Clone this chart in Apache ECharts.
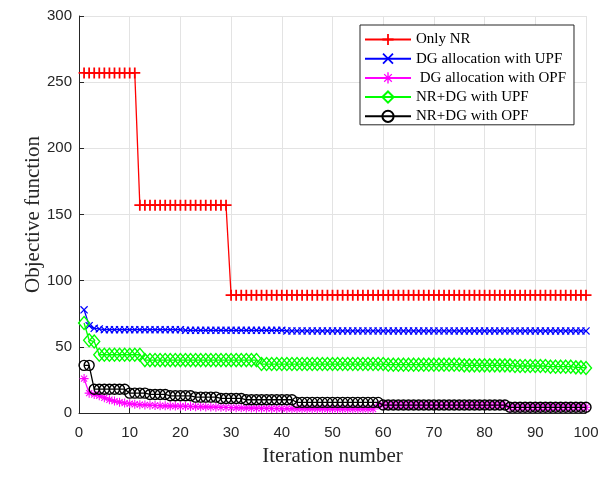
<!DOCTYPE html>
<html>
<head>
<meta charset="utf-8">
<script src="https://cdn.jsdelivr.net/npm/echarts@6/dist/echarts.min.js"></script>
<style>html,body{margin:0;padding:0;background:#fff}#c{width:608px;height:481px}</style>
</head>
<body>
<div id="c"></div>
<script>
// ---- data ----
const seriesNames = ['Only NR', 'DG allocation with UPF', ' DG allocation with OPF', 'NR+DG with UPF', 'NR+DG with OPF'];
const xTicks = [0, 10, 20, 30, 40, 50, 60, 70, 80, 90, 100];
const yTicks = [0, 50, 100, 150, 200, 250, 300];

const onlyNR = [
  257,257,257,257,257,257,257,257,257,257,
  257,157,157,157,157,157,157,157,157,157,
  157,157,157,157,157,157,157,157,157,89,
  89,89,89,89,89,89,89,89,89,89,
  89,89,89,89,89,89,89,89,89,89,
  89,89,89,89,89,89,89,89,89,89,
  89,89,89,89,89,89,89,89,89,89,
  89,89,89,89,89,89,89,89,89,89,
  89,89,89,89,89,89,89,89,89,89,
  89,89,89,89,89,89,89,89,89,89
];
const dgUPF = [
  78,66,64,63.5,63,63,63,63,63,63,
  63,63,63,63,63,63,63,63,63,63,
  62.5,62.5,62.5,62.5,62.5,62.5,62.5,62.5,62.5,62.5,
  62.5,62.5,62.5,62.5,62.5,62.5,62.5,62.5,62.5,62.5,
  62,62,62,62,62,62,62,62,62,62,
  62,62,62,62,62,62,62,62,62,62,
  62,62,62,62,62,62,62,62,62,62,
  62,62,62,62,62,62,62,62,62,62,
  62,62,62,62,62,62,62,62,62,62,
  62,62,62,62,62,62,62,62,62,62
];
const dgOPF = [
  26,15,14,13,11.5,10,9,8.2,7.5,7,
  6.6,6.3,6.1,5.9,5.7,5.5,5.4,5.3,5.2,5.1,
  5,4.9,4.8,4.7,4.6,4.5,4.4,4.3,4.2,4.1,
  4,3.9,3.8,3.7,3.6,3.5,3.5,3.4,3.4,3.3,
  3.3,3.2,3.2,3.2,3.1,3.1,3.1,3.1,3,3,
  3,3,3,3,3,3,3,3,6,6,
  6,6,6,6,6,6,6,6,6,6,
  6,6,6,6,6,6,6,6,6,6,
  6,6,6,6,4.3,4.3,4.3,4.3,4.3,4.3,
  4.3,4.3,4.3,4.3,4.3,4.3,4.3,4.3,4.3,4.3
];
const nrdgUPF = [
  68,55,54,44,44,44,44,44,44,44,
  44,44,40,40,40,40,40,40,40,40,
  40,40,40,40,40,40,40,40,40,40,
  40,40,40,40,40,37,37,37,37,37,
  37,37,37,37,37,37,37,37,37,37,
  37,37,37,37,37,37,37,37,37,37,
  36.5,36.5,36.5,36.5,36.5,36.5,36.5,36.5,36.5,36.5,
  36.5,36.5,36.5,36.5,36.5,36,36,36,36,36,
  36,36,36,36,36,35.5,35.5,35.5,35.5,35.5,
  35.5,35.5,35,35,35,35,35,34.5,34.5,34
];
const nrdgOPF = [
  36,36,18,18,18,18,18,18,18,15,
  15,15,15,14,14,14,14,13,13,13,
  13,13,12,12,12,12,12,11,11,11,
  11,11,10,10,10,10,10,10,10,10,
  10,10,8,8,8,8,8,8,8,8,
  8,8,8,8,8,8,8,8,8,6,
  6,6,6,6,6,6,6,6,6,6,
  6,6,6,6,6,6,6,6,6,6,
  6,6,6,6,4.3,4.3,4.3,4.3,4.3,4.3,
  4.3,4.3,4.3,4.3,4.3,4.3,4.3,4.3,4.3,4.3
];

// ---- chart ----
const toPairs = arr => arr.map((v, i) => [i + 1, v]);
const PLUS = 'path://M0,4.2H10V5.8H0Z M4.2,0H5.8V10H4.2Z';
const CROSS = 'path://M0,1.1L1.1,0L10,8.9L8.9,10Z M8.9,0L10,1.1L1.1,10L0,8.9Z';
const STAR = 'path://M0,4.4H10V5.6H0Z M4.4,0H5.6V10H4.4Z M1.2,2L2,1.2L8.8,8L8,8.8Z M8,1.2L8.8,2L2,8.8L1.2,8Z';

const styles = [
  {color: '#ff0000', symbol: PLUS, size: 11, filled: true},
  {color: '#0000ff', symbol: CROSS, size: 8, filled: true},
  {color: '#ff00ff', symbol: STAR, size: 9, filled: true},
  {color: '#00ff00', symbol: 'diamond', size: [11, 13], filled: false},
  {color: '#000000', symbol: 'circle', size: 10, filled: false}
];
const allData = [onlyNR, dgUPF, dgOPF, nrdgUPF, nrdgOPF];

const series = allData.map((d, k) => {
  const s = styles[k];
  return {
    name: seriesNames[k],
    type: 'line',
    data: toPairs(d),
    symbol: s.symbol,
    symbolSize: s.size,
    showSymbol: true,
    showAllSymbol: true,
    z: 2 + k,
    lineStyle: {color: s.color, width: 1.3},
    itemStyle: s.filled
      ? {color: s.color, borderWidth: 0}
      : {color: 'rgba(0,0,0,0)', borderColor: s.color, borderWidth: 1.4},
    emphasis: {disabled: true}
  };
});

const chart = echarts.init(document.getElementById('c'), null, {renderer: 'canvas'});
chart.setOption({
  animation: false,
  backgroundColor: '#ffffff',
  grid: {left: 79, right: 22, top: 16, bottom: 68, containLabel: false},
  legend: {
    orient: 'vertical',
    left: 360,
    top: 25,
    padding: [7, 8, 1, 4],
    itemGap: 4.2,
    itemWidth: 46,
    itemHeight: 14,
    backgroundColor: '#ffffff',
    borderColor: '#262626',
    borderWidth: 1,
    textStyle: {fontFamily: 'Liberation Serif', fontSize: 15, color: '#000'},
    data: seriesNames
  },
  xAxis: {
    type: 'value',
    min: xTicks[0],
    max: xTicks[xTicks.length - 1],
    interval: xTicks[1] - xTicks[0],
    name: 'Iteration number',
    nameLocation: 'middle',
    nameGap: 33,
    nameMoveOverlap: false,
    nameTextStyle: {fontFamily: 'Liberation Serif', fontSize: 21, color: '#262626'},
    axisLine: {show: true, lineStyle: {color: '#262626', width: 1}},
    axisTick: {show: true, inside: true, length: 5, lineStyle: {color: '#262626'}},
    axisLabel: {fontFamily: 'Liberation Sans', fontSize: 15, color: '#262626', margin: 12},
    splitLine: {show: true, lineStyle: {color: '#e3e3e3', width: 1}}
  },
  yAxis: {
    type: 'value',
    min: yTicks[0],
    max: yTicks[yTicks.length - 1],
    interval: yTicks[1] - yTicks[0],
    name: 'Objective function',
    nameLocation: 'middle',
    nameGap: 35,
    nameMoveOverlap: false,
    nameTextStyle: {fontFamily: 'Liberation Serif', fontSize: 21, color: '#262626'},
    axisLine: {show: true, lineStyle: {color: '#262626', width: 1}},
    axisTick: {show: true, inside: true, length: 5, lineStyle: {color: '#262626'}},
    axisLabel: {fontFamily: 'Liberation Sans', fontSize: 15, color: '#262626', margin: 7},
    splitLine: {show: true, lineStyle: {color: '#e3e3e3', width: 1}}
  },
  series: series
});
</script>
</body>
</html>
